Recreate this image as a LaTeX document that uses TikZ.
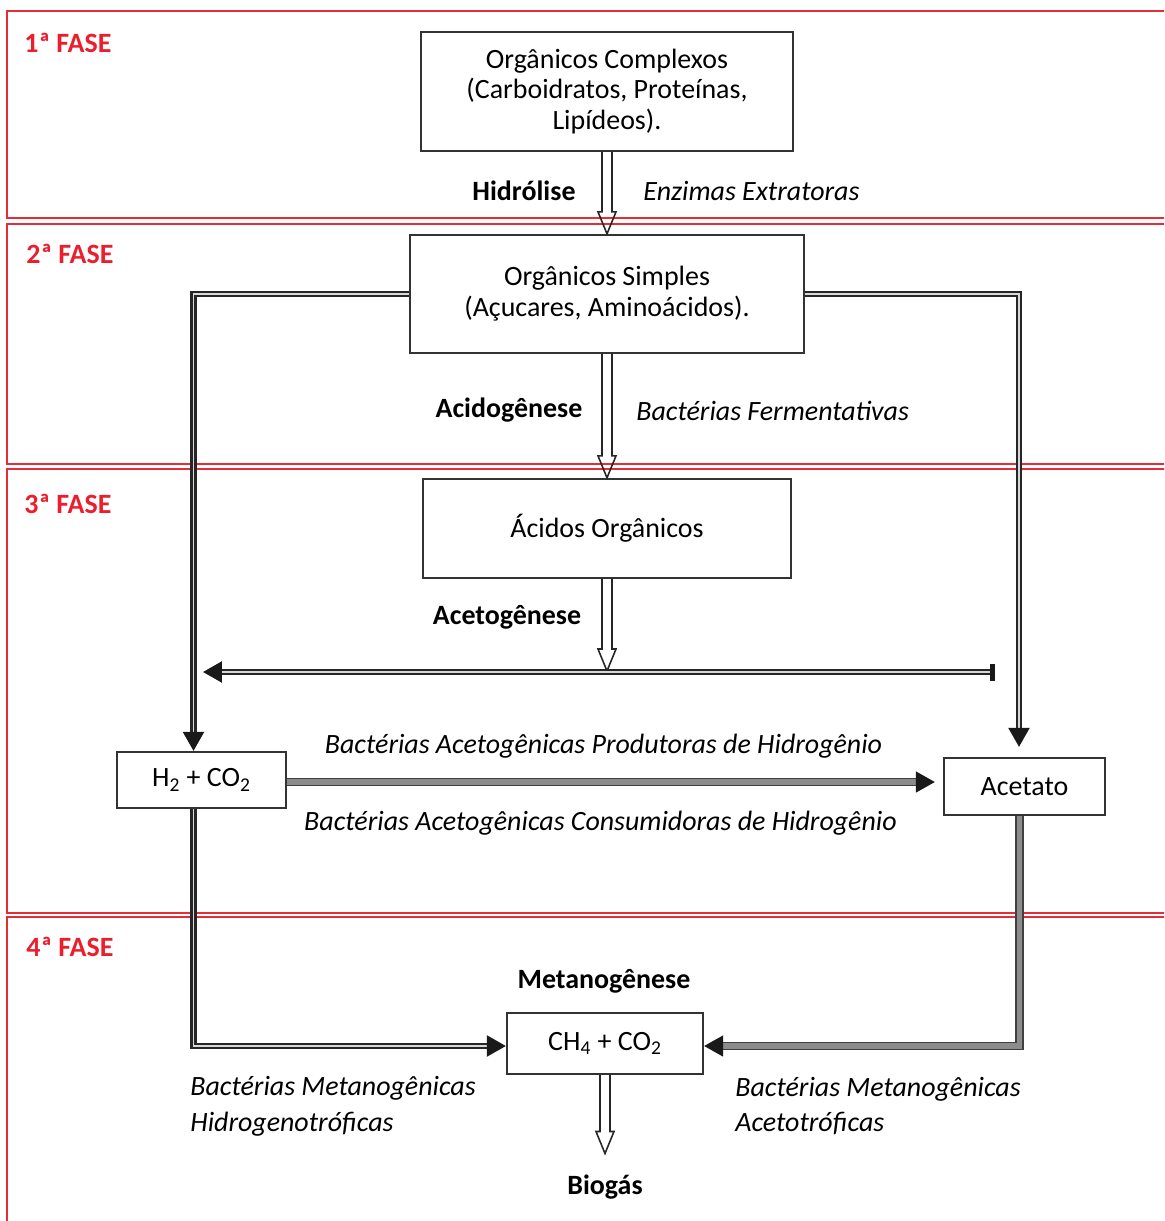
\documentclass[tikz,border=0pt]{standalone}
\usepackage{fontspec}
\setmainfont{Carlito}
\usetikzlibrary{arrows.meta,calc}
\definecolor{fasered}{RGB}{230,45,55}
\definecolor{fasetext}{RGB}{235,30,45}
\begin{document}
\begin{tikzpicture}[x=0.02cm,y=-0.02cm,
  font=\fontsize{15.9}{17.6}\selectfont,
  fase/.style={draw=fasered, line width=1.1pt},
  fasel/.style={anchor=west, text=fasetext, font=\fontsize{15.9}{17.6}\selectfont\bfseries, inner sep=0pt},
  box/.style 2 args={draw=black!80, line width=1.3pt, fill=white, align=center, inner sep=0pt,
    minimum width=#1*0.02cm, minimum height=#2*0.02cm},
  bold/.style={font=\fontsize{15.9}{17.6}\selectfont\bfseries, inner sep=0pt},
  ital/.style={font=\fontsize{15.9}{17.6}\selectfont\itshape, inner sep=0pt},
  ital2/.style={font=\fontsize{15.9}{20.4}\selectfont\itshape, inner sep=0pt, align=left, anchor=west},
  hollow/.style={draw=black!85, line width=0.9pt, line join=miter,
    to path={($(\tikztostart)+(-5,0)$) |- ($(\tikztotarget)+(-9,-22)$) -- (\tikztotarget)
      -- ($(\tikztotarget)+(9,-22)$) -- ($(\tikztotarget)+(5,-22)$) |- ($(\tikztostart)+(5,0)$)}},
  tipf/.style={-{Triangle[length=0.38cm,width=0.42cm,color=black!90,fill=black!90]}},
  dbl/.style={draw=black!85, double=gray!30, line width=1.3pt, double distance=1.1pt},
  gry/.style={draw=black!75, double=gray!90, line width=0.8pt, double distance=3pt}
]
\useasboundingbox (0,0) rectangle (1164,1221);
\begin{scope}
  \clip (0,0) rectangle (1164,1221);
  \draw[fase] (7,11) rectangle (1190,218);
  \draw[fase] (7,224) rectangle (1190,464);
  \draw[fase] (7,469) rectangle (1190,913);
  \draw[fase] (7,917) rectangle (1190,1240);
\end{scope}

\node[fasel] (f1) at (24,43) {1ª FASE};
\node[fasel] (f2) at (26,254) {2ª FASE};
\node[fasel] (f3) at (24,504) {3ª FASE};
\node[fasel] (f4) at (26,947) {4ª FASE};

% boxes
\node[box={372}{119}] (b1) at (607,91.5) {Orgânicos Complexos\\(Carboidratos, Proteínas,\\Lipídeos).};
\node[box={394}{118}] (b2) at (607,294) {Orgânicos Simples\\(Açucares, Aminoácidos).};
\node[box={368}{99}] (b3) at (607,528.5) {Ácidos Orgânicos};
\node[box={169}{56}] (b4) at (201.5,780) {H\textsubscript{2} + CO\textsubscript{2}};
\node[box={161}{57}] (b5) at (1024.5,786.5) {Acetato};
\node[box={196}{61}] (b6) at (605,1043.5) {CH\textsubscript{4} + CO\textsubscript{2}};

% labels
\node[bold] (hid) at (524,191) {Hidrólise};
\node[ital, anchor=west] (enz) at (643,191) {Enzimas Extratoras};
\node[bold] (acid) at (509,410) {Acidogênese};
\node[ital, anchor=west] (ferm) at (636,411) {Bactérias Fermentativas};
\node[bold] (acet) at (507,617) {Acetogênese};
\node[ital] (prod) at (603.5,746) {Bactérias Acetogênicas Produtoras de Hidrogênio};
\node[ital] (cons) at (600.5,823) {Bactérias Acetogênicas Consumidoras de Hidrogênio};
\node[bold] (met) at (604,981) {Metanogênese};
\node[ital2] (hidrog) at (190,1106) {Bactérias Metanogênicas\\Hidrogenotróficas};
\node[ital2] (acetot) at (735,1106) {Bactérias Metanogênicas\\Acetotróficas};
\node[bold] (bio) at (605,1187) {Biogás};

% free ends
\coordinate (hl) at (203,672);
\coordinate (hr) at (995,672);
\coordinate (hm) at (607,671);
\coordinate (biotip) at ($(bio.north)+(0,-21)$);

% hollow arrows
\draw[hollow] (b1.south) to (b2.north);
\draw[hollow] (b2.south) to (b3.north);
\draw[hollow] (b3.south) to (hm);
\draw[hollow] (b6.south) to (biotip);

% double connectors
\draw[dbl, tipf] (b2.west) -| ($(b4.north)+(-8,0)$);
\draw[dbl, tipf] (b2.east) -| ($(b5.north)+(-5.5,-10)$);
\draw[dbl, {Triangle[length=0.38cm,width=0.42cm,color=black!90,fill=black!90]}-{Rectangle[length=0.1cm,width=0.34cm,color=black!90,fill=black!90]}] (hl) -- (hr);
\draw[dbl, tipf] ($(b4.south)+(-8,0)$) |- ($(b6.west)+(0,2.5)$);
\draw[gry, tipf] ($(b4.east)+(0,2)$) -- ($(b5.west)+(-8,-4.5)$);
\draw[gry, tipf] ($(b5.south)+(-5,0)$) |- ($(b6.east)+(0,2.5)$);
\end{tikzpicture}
\end{document}
